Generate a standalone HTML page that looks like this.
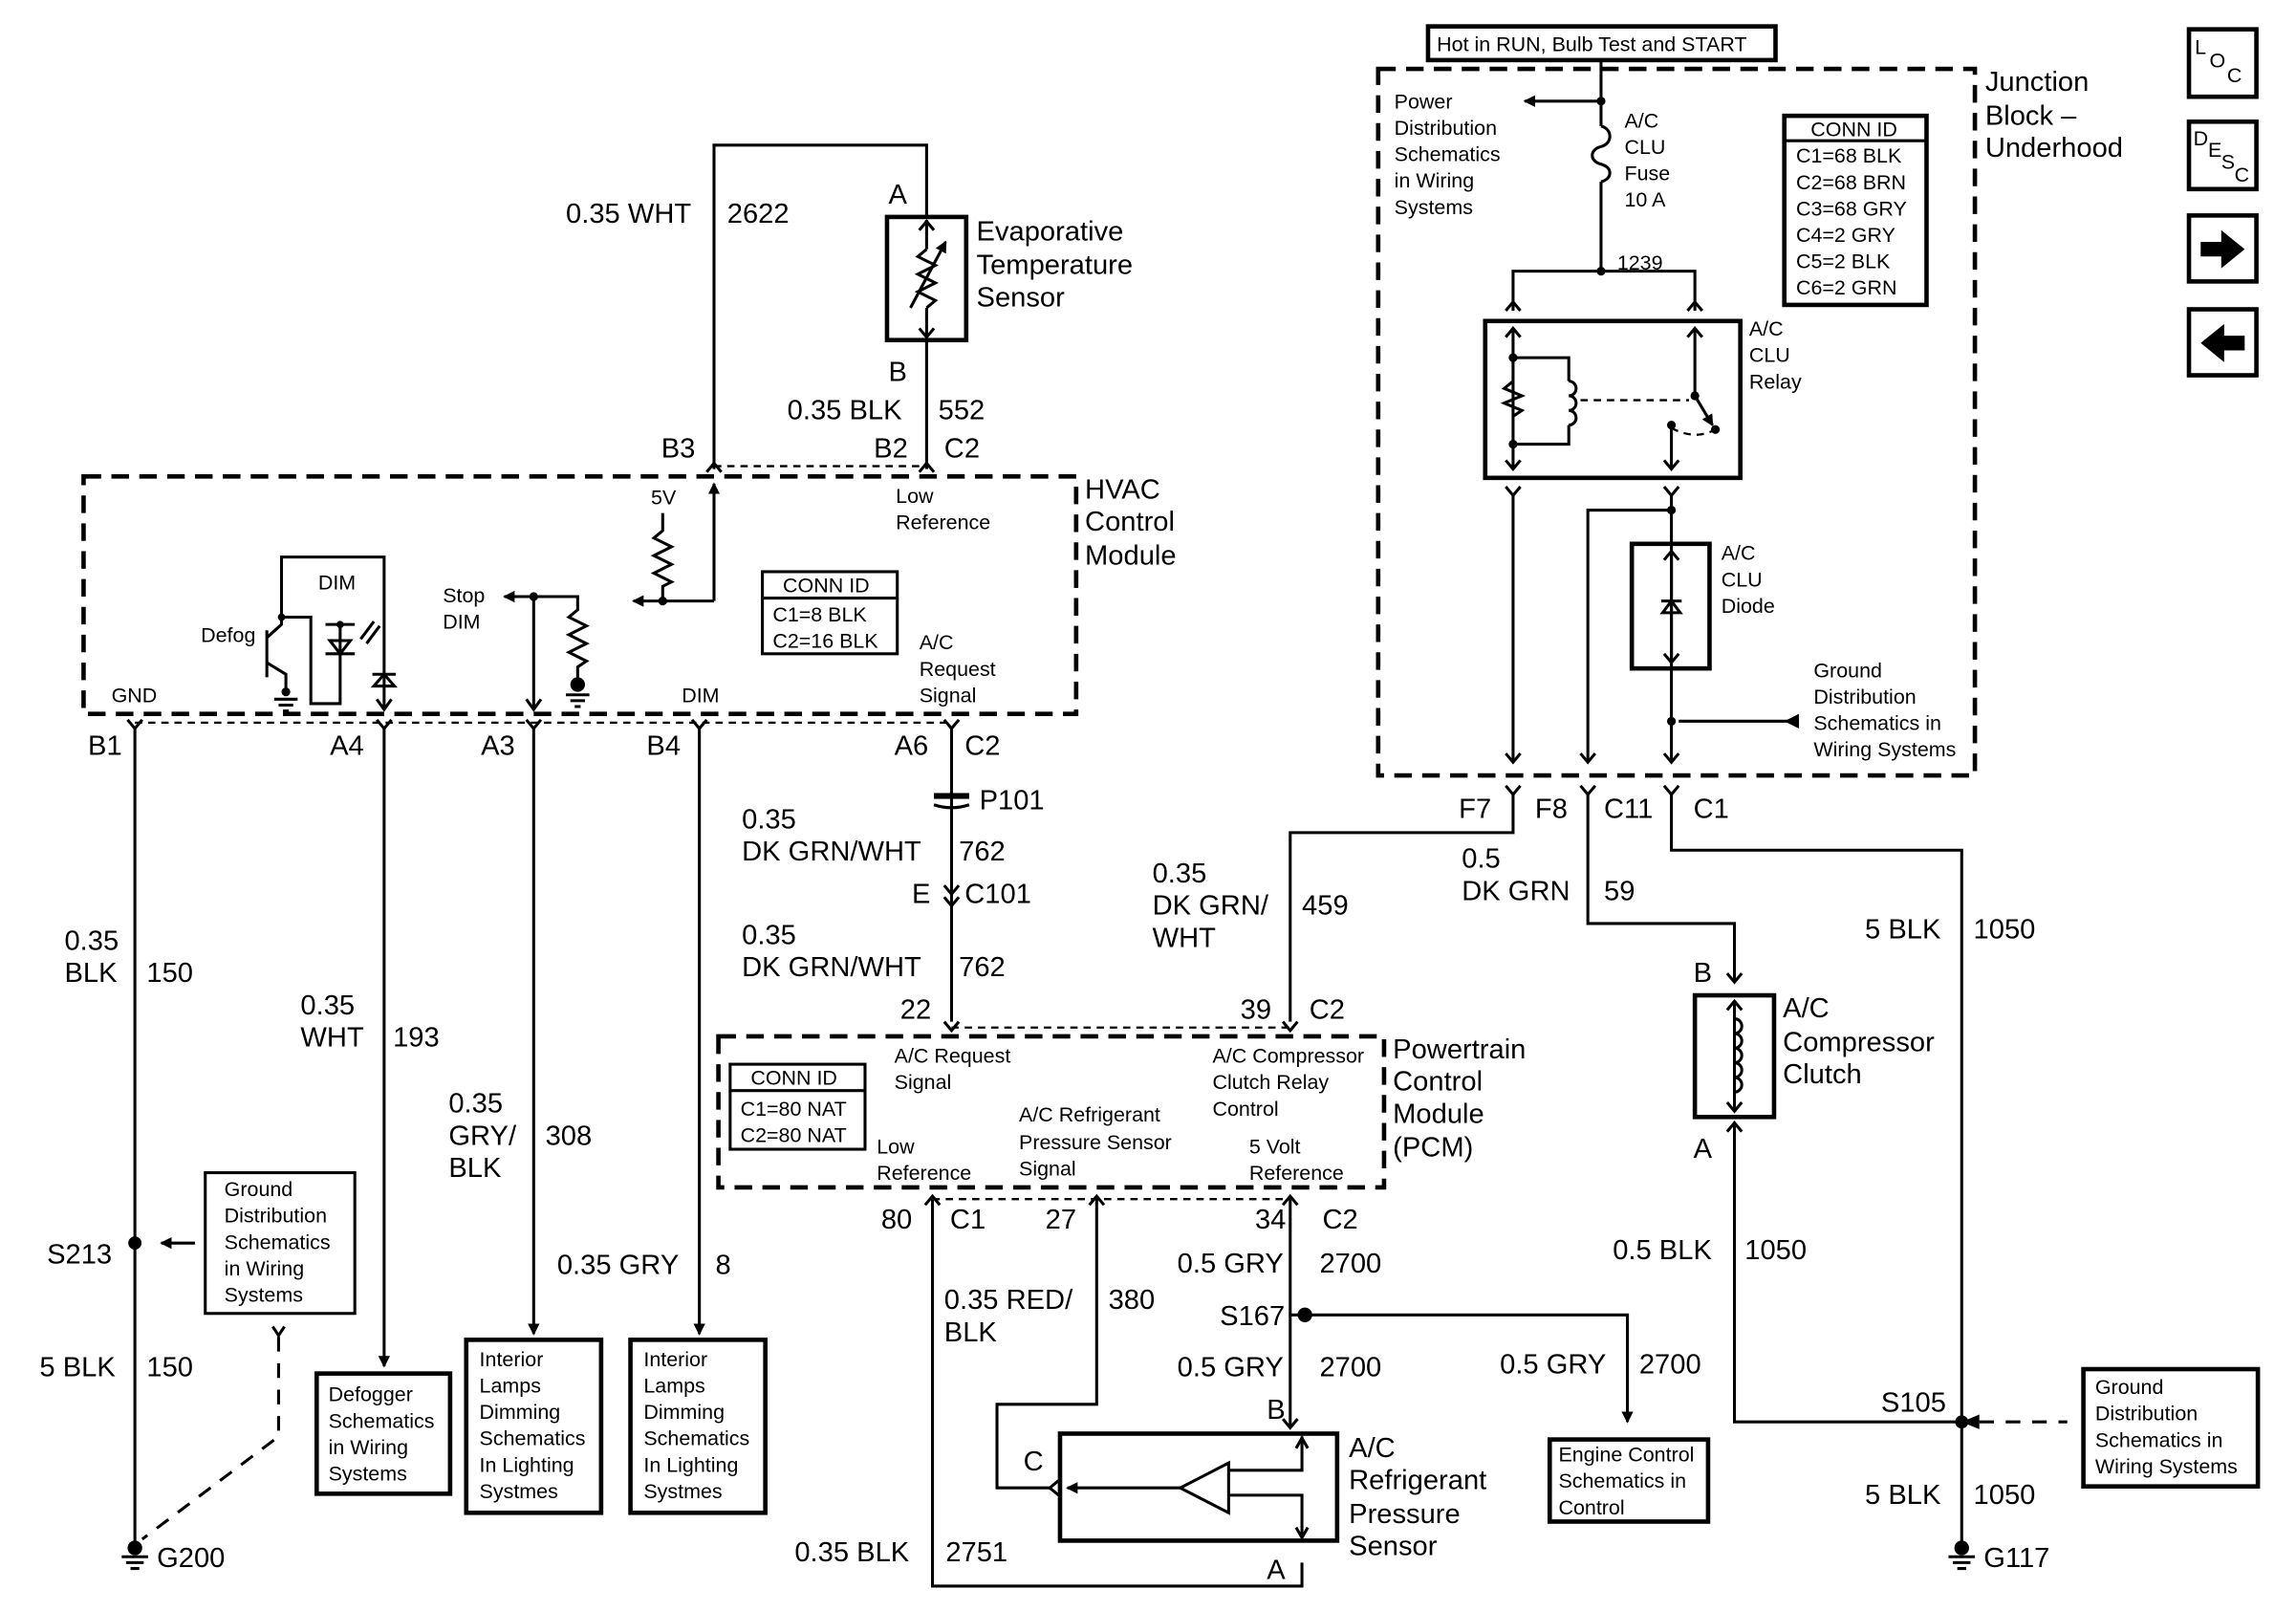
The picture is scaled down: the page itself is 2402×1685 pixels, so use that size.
<!DOCTYPE html>
<html><head><meta charset="utf-8"><style>
html,body{margin:0;padding:0;background:#fff;}
svg{display:block;}
text{font-family:"Liberation Sans",Arial,sans-serif;fill:#000;}
.b{font-size:19px;}
.s{font-size:14px;}
.l{stroke:#000;stroke-width:2;fill:none;}
.t{stroke:#000;stroke-width:3;fill:none;}
.d{stroke:#000;stroke-width:3;fill:none;stroke-dasharray:12,7;}
.dt{stroke:#000;stroke-width:1.5;fill:none;stroke-dasharray:5,4;}
.dl{stroke:#000;stroke-width:2;fill:none;stroke-dasharray:10,8;}
</style></head><body>
<svg width="2402" height="1685" viewBox="0 0 1566 1099" preserveAspectRatio="none" xmlns="http://www.w3.org/2000/svg">
<defs>
<marker id="ah" markerWidth="8" markerHeight="8" refX="7" refY="4" orient="auto" markerUnits="userSpaceOnUse"><path d="M0,0 L8,4 L0,8 z" fill="#000"/></marker>
</defs>
<path class="l" d="M487,320 V99 H632 V148"/>
<rect x="605" y="148" width="54" height="84" class="t"/>
<path class="l" d="M632,150 V170 M632,210 V230 M627,157 L632,151 L637,157 M627,224 L632,230 L637,224"/>
<path class="l" d="M632,170 L626,175 L638,181 L626,187 L638,193 L626,199 L638,205 L632,210"/>
<path class="l" d="M621,210 L645,165" marker-end="url(#ah)"/>
<path class="l" d="M632,232 V320"/>
<text class="b" x="606" y="139">A</text>
<text class="b" x="666" y="164">Evaporative</text>
<text class="b" x="666" y="187">Temperature</text>
<text class="b" x="666" y="209">Sensor</text>
<text class="b" x="386" y="152">0.35 WHT</text>
<text class="b" x="496" y="152">2622</text>
<text class="b" x="606" y="260">B</text>
<text class="b" x="537" y="286">0.35 BLK</text>
<text class="b" x="640" y="286">552</text>
<text class="b" x="451" y="312">B3</text>
<text class="b" x="596" y="312">B2</text>
<text class="b" x="644" y="312">C2</text>
<path class="dt" d="M487,318 H632"/>
<path class="l" d="M482,322 L487,316 L492,322 M627,322 L632,316 L637,322"/>
<rect x="57" y="325" width="677" height="162" class="d"/>
<text class="b" x="740" y="340">HVAC</text>
<text class="b" x="740" y="362">Control</text>
<text class="b" x="740" y="385">Module</text>
<text class="s" x="611" y="343">Low</text>
<text class="s" x="611" y="361">Reference</text>
<text class="s" x="444" y="344">5V</text>
<path class="l" d="M452,350 V362 L446,367 L458,373 L446,379 L458,385 L446,391 L458,397 L452,400 V410"/>
<path class="l" d="M487,410 H432" marker-end="url(#ah)"/>
<path class="l" d="M487,410 V330" marker-end="url(#ah)"/>
<circle cx="452" cy="410" r="3"/>
<rect x="520" y="390" width="92" height="56" class="l"/>
<path class="l" d="M520,408 H612"/>
<text class="s" x="534" y="404">CONN ID</text>
<text class="s" x="527" y="424">C1=8 BLK</text>
<text class="s" x="527" y="442">C2=16 BLK</text>
<text class="s" x="627" y="443">A/C</text>
<text class="s" x="627" y="461">Request</text>
<text class="s" x="627" y="479">Signal</text>
<text class="s" x="302" y="411">Stop</text>
<text class="s" x="302" y="429">DIM</text>
<path class="l" d="M364,407 H344" marker-end="url(#ah)"/>
<path class="l" d="M364,407 H394 V416 L388,421 L400,427 L388,433 L400,439 L388,445 L400,451 L394,455 V468"/>
<circle cx="364" cy="407" r="3"/>
<circle cx="394" cy="467" r="5"/>
<path class="l" d="M386,474 H402 M389,478 H399 M392,482 H396"/>
<path class="l" d="M364,407 V484 M359,477 L364,484 L369,477"/>
<text class="s" x="137" y="438">Defog</text>
<path class="l" d="M192,421 V380 H262 V484"/>
<path class="l" d="M192,421 H212 V480 H232 V443 M232,443 V426"/>
<path class="l" d="M222,426 H242"/>
<path class="l" d="M225,437 L232,446 L239,437 z" fill="#000"/>
<path class="l" d="M222,446 H242"/>
<circle cx="232" cy="426" r="2.5"/><circle cx="192" cy="421" r="2.5"/>
<path class="l" d="M246,436 L255,424 M250,439 L259,427" stroke-width="1.5"/>
<text class="s" x="217" y="402">DIM</text>
<path class="l" d="M192,421 V426 L182,435 M182,430 V462 M182,452 L195,460 V470"/>
<circle cx="195" cy="472" r="3"/>
<path class="l" d="M187,477 H203 M190,481 H200 M193,485 H197"/>
<path class="l" d="M254,460 H270 M255,468 L262,460 L269,468 z" fill="#000"/>
<path class="l" d="M257,477 L262,484 L267,477"/>
<text class="s" x="76" y="479">GND</text>
<text class="s" x="465" y="479">DIM</text>
<path class="dt" d="M92,493 H650"/>
<path class="l" d="M87,491 L92,497 L97,491 M257,491 L262,497 L267,491 M359,491 L364,497 L369,491 M472,491 L477,497 L482,491 M644,491 L649,497 L654,491"/>
<text class="b" x="60" y="515">B1</text>
<text class="b" x="225" y="515">A4</text>
<text class="b" x="328" y="515">A3</text>
<text class="b" x="441" y="515">B4</text>
<text class="b" x="610" y="515">A6</text>
<text class="b" x="658" y="515">C2</text>
<path class="l" d="M92,497 V1052"/>
<circle cx="92" cy="848" r="4.5"/>
<path class="l" d="M133,848 H110" marker-end="url(#ah)"/>
<rect x="140" y="800" width="102" height="96" class="l"/>
<text class="s" x="153" y="816">Ground</text>
<text class="s" x="153" y="834">Distribution</text>
<text class="s" x="153" y="852">Schematics</text>
<text class="s" x="153" y="870">in Wiring</text>
<text class="s" x="153" y="888">Systems</text>
<path class="l" d="M186,905 L190,911 L194,905" fill="#000"/>
<path class="dl" d="M190,912 V980 L97,1050"/>
<circle cx="92" cy="1056" r="5"/>
<path class="l" d="M83,1062 H101 M86,1066 H98 M89,1070 H95"/>
<text class="b" x="107" y="1069">G200</text>
<text class="b" x="32" y="862">S213</text>
<text class="b" x="44" y="648">0.35</text>
<text class="b" x="44" y="670">BLK</text>
<text class="b" x="100" y="670">150</text>
<text class="b" x="27" y="939">5 BLK</text>
<text class="b" x="100" y="939">150</text>
<path class="l" d="M262,497 V932" marker-end="url(#ah)"/>
<rect x="216" y="937" width="91" height="82" class="t"/>
<text class="s" x="224" y="956">Defogger</text>
<text class="s" x="224" y="974">Schematics</text>
<text class="s" x="224" y="992">in Wiring</text>
<text class="s" x="224" y="1010">Systems</text>
<text class="b" x="205" y="692">0.35</text>
<text class="b" x="205" y="714">WHT</text>
<text class="b" x="268" y="714">193</text>
<path class="l" d="M364,497 V910" marker-end="url(#ah)"/>
<rect x="318" y="914" width="92" height="118" class="t"/>
<text class="s" x="327" y="932">Interior</text>
<text class="s" x="327" y="950">Lamps</text>
<text class="s" x="327" y="968">Dimming</text>
<text class="s" x="327" y="986">Schematics</text>
<text class="s" x="327" y="1004">In Lighting</text>
<text class="s" x="327" y="1022">Systmes</text>
<text class="b" x="306" y="759">0.35</text>
<text class="b" x="306" y="781">GRY/</text>
<text class="b" x="306" y="803">BLK</text>
<text class="b" x="372" y="781">308</text>
<path class="l" d="M477,497 V910" marker-end="url(#ah)"/>
<rect x="430" y="914" width="92" height="118" class="t"/>
<text class="s" x="439" y="932">Interior</text>
<text class="s" x="439" y="950">Lamps</text>
<text class="s" x="439" y="968">Dimming</text>
<text class="s" x="439" y="986">Schematics</text>
<text class="s" x="439" y="1004">In Lighting</text>
<text class="s" x="439" y="1022">Systmes</text>
<text class="b" x="380" y="869">0.35 GRY</text>
<text class="b" x="488" y="869">8</text>
<path class="l" d="M649,497 V697"/>
<rect x="637" y="541" width="24" height="4" fill="#000"/>
<path class="l" d="M637,549 Q649,553 661,549"/>
<text class="b" x="668" y="552">P101</text>
<path class="l" d="M644,604 L649,610 L654,604 M644,612 L649,618 L654,612"/>
<text class="b" x="622" y="616">E</text>
<text class="b" x="658" y="616">C101</text>
<text class="b" x="506" y="565">0.35</text>
<text class="b" x="506" y="587">DK GRN/WHT</text>
<text class="b" x="654" y="587">762</text>
<text class="b" x="506" y="644">0.35</text>
<text class="b" x="506" y="666">DK GRN/WHT</text>
<text class="b" x="654" y="666">762</text>
<text class="b" x="614" y="695">22</text>
<text class="b" x="846" y="695">39</text>
<text class="b" x="893" y="695">C2</text>
<path class="l" d="M644,697 L649,703 L654,697 M875,697 L880,703 L885,697"/>
<path class="dt" d="M649,701 H880"/>
<rect x="490" y="707" width="454" height="103" class="d"/>
<text class="b" x="950" y="722">Powertrain</text>
<text class="b" x="950" y="744">Control</text>
<text class="b" x="950" y="766">Module</text>
<text class="b" x="950" y="789">(PCM)</text>
<rect x="498" y="726" width="92" height="58" class="l"/>
<path class="l" d="M498,744 H590"/>
<text class="s" x="512" y="740">CONN ID</text>
<text class="s" x="505" y="761">C1=80 NAT</text>
<text class="s" x="505" y="779">C2=80 NAT</text>
<text class="s" x="610" y="725">A/C Request</text>
<text class="s" x="610" y="743">Signal</text>
<text class="s" x="695" y="765">A/C Refrigerant</text>
<text class="s" x="695" y="784">Pressure Sensor</text>
<text class="s" x="695" y="802">Signal</text>
<text class="s" x="598" y="787">Low</text>
<text class="s" x="598" y="805">Reference</text>
<text class="s" x="827" y="725">A/C Compressor</text>
<text class="s" x="827" y="743">Clutch Relay</text>
<text class="s" x="827" y="761">Control</text>
<text class="s" x="852" y="787">5 Volt</text>
<text class="s" x="852" y="805">Reference</text>
<path class="dt" d="M636,818 H880"/>
<path class="l" d="M631,822 L636,816 L641,822 M743,822 L748,816 L753,822 M875,822 L880,816 L885,822"/>
<text class="b" x="601" y="838">80</text>
<text class="b" x="648" y="838">C1</text>
<text class="b" x="713" y="838">27</text>
<text class="b" x="856" y="838">34</text>
<text class="b" x="902" y="838">C2</text>
<path class="l" d="M636,818 V1082 H888 V1066"/>
<text class="b" x="542" y="1065">0.35 BLK</text>
<text class="b" x="645" y="1065">2751</text>
<text class="b" x="864" y="1077">A</text>
<path class="l" d="M748,818 V958 H680 V1015 H716"/>
<path class="l" d="M722,1010 L716,1015 L722,1020"/>
<text class="b" x="698" y="1003">C</text>
<text class="b" x="644" y="893">0.35 RED/</text>
<text class="b" x="644" y="915">BLK</text>
<text class="b" x="756" y="893">380</text>
<path class="l" d="M880,818 V974 M875,968 L880,974 L885,968"/>
<circle cx="890" cy="897" r="5"/>
<path class="l" d="M880,897 H1110 V970" marker-end="url(#ah)"/>
<text class="b" x="803" y="868">0.5 GRY</text>
<text class="b" x="900" y="868">2700</text>
<text class="b" x="832" y="904">S167</text>
<text class="b" x="803" y="939">0.5 GRY</text>
<text class="b" x="900" y="939">2700</text>
<text class="b" x="1023" y="937">0.5 GRY</text>
<text class="b" x="1118" y="937">2700</text>
<text class="b" x="864" y="968">B</text>
<rect x="1057" y="982" width="108" height="56" class="t"/>
<text class="s" x="1063" y="997">Engine Control</text>
<text class="s" x="1063" y="1015">Schematics in</text>
<text class="s" x="1063" y="1033">Control</text>
<rect x="723" y="978" width="189" height="73" class="t"/>
<path class="l" d="M888,980 V1003 H838 M838,1020 H888 V1049 M888,988 V1003"/>
<path class="l" d="M884,988 L888,981 L892,988 M884,1042 L888,1049 L892,1042"/>
<path class="l" d="M838,998 L805,1015 L838,1032 z"/>
<path class="l" d="M805,1015 H728" marker-end="url(#ah)"/>
<text class="b" x="920" y="994">A/C</text>
<text class="b" x="920" y="1016">Refrigerant</text>
<text class="b" x="920" y="1039">Pressure</text>
<text class="b" x="920" y="1061">Sensor</text>
<rect x="974" y="18" width="237" height="23" class="t"/>
<text class="s" x="980" y="35">Hot in RUN, Bulb Test and START</text>
<rect x="940" y="47" width="407" height="482" class="d"/>
<text class="b" x="1354" y="62">Junction</text>
<text class="b" x="1354" y="85">Block –</text>
<text class="b" x="1354" y="107">Underhood</text>
<path class="l" d="M1092,41 V86 M1092,124 V185"/>
<path class="l" d="M1092,86 C1100,88 1100,98 1092,100 C1084,102 1084,110 1092,112 C1100,114 1100,122 1092,124"/>
<circle cx="1092" cy="69" r="3"/>
<path class="l" d="M1092,69 H1040" marker-end="url(#ah)"/>
<circle cx="1092" cy="185" r="3"/>
<text class="s" x="951" y="74">Power</text>
<text class="s" x="951" y="92">Distribution</text>
<text class="s" x="951" y="110">Schematics</text>
<text class="s" x="951" y="128">in Wiring</text>
<text class="s" x="951" y="146">Systems</text>
<text class="s" x="1108" y="87">A/C</text>
<text class="s" x="1108" y="105">CLU</text>
<text class="s" x="1108" y="123">Fuse</text>
<text class="s" x="1108" y="141">10 A</text>
<text class="s" x="1103" y="184">1239</text>
<rect x="1217" y="79" width="97" height="129" class="t"/>
<path class="l" d="M1217,96 H1314"/>
<text class="s" x="1235" y="93">CONN ID</text>
<text class="s" x="1225" y="111">C1=68 BLK</text>
<text class="s" x="1225" y="129">C2=68 BRN</text>
<text class="s" x="1225" y="147">C3=68 GRY</text>
<text class="s" x="1225" y="165">C4=2 GRY</text>
<text class="s" x="1225" y="183">C5=2 BLK</text>
<text class="s" x="1225" y="201">C6=2 GRN</text>
<path class="l" d="M1032,212 V185 H1156 V212 M1027,212 L1032,206 L1037,212 M1151,212 L1156,206 L1161,212"/>
<rect x="1013" y="219" width="174" height="107" class="t"/>
<path class="l" d="M1032,224 V320 M1027,230 L1032,224 L1037,230 M1027,314 L1032,320 L1037,314"/>
<path class="l" d="M1032,244 H1070 V260 M1070,290 V303 H1032"/>
<path class="l" d="M1070,260 a5,5 0 0 1 0,10 a5,5 0 0 1 0,10 a5,5 0 0 1 0,10"/>
<path class="l" d="M1032,260 L1026,265 L1038,270 L1026,275 L1038,280 L1032,284"/>
<circle cx="1032" cy="244" r="3"/><circle cx="1032" cy="303" r="3"/>
<path class="l" d="M1156,224 V270 M1151,230 L1156,224 L1161,230"/>
<circle cx="1156" cy="270" r="3"/>
<path class="l" d="M1156,270 L1168,290" marker-end="url(#ah)"/>
<circle cx="1170" cy="293" r="3"/>
<path class="dt" d="M1078,273 H1152"/>
<path class="dt" d="M1140,292 Q1155,300 1168,294"/>
<circle cx="1140" cy="290" r="3"/>
<path class="l" d="M1140,290 V320 M1135,314 L1140,320 L1145,314"/>
<text class="s" x="1193" y="229">A/C</text>
<text class="s" x="1193" y="247">CLU</text>
<text class="s" x="1193" y="265">Relay</text>
<path class="l" d="M1027,332 L1032,338 L1037,332 M1135,332 L1140,338 L1145,332"/>
<path class="l" d="M1032,338 V520 M1140,338 V520"/>
<circle cx="1140" cy="348" r="3"/>
<path class="l" d="M1083,520 V348 H1140"/>
<rect x="1113" y="371" width="53" height="85" class="t"/>
<path class="l" d="M1140,376 V452 M1135,382 L1140,376 L1145,382 M1135,446 L1140,452 L1145,446"/>
<path class="l" d="M1133,410 H1147 M1134,418 L1140,410 L1146,418 z" fill="#000"/>
<text class="s" x="1174" y="382">A/C</text>
<text class="s" x="1174" y="400">CLU</text>
<text class="s" x="1174" y="418">Diode</text>
<circle cx="1140" cy="492" r="3"/>
<path class="l" d="M1227,492 H1145"/>
<path d="M1217,492 L1227,487 L1227,497 z" fill="#000"/>
<text class="s" x="1237" y="462">Ground</text>
<text class="s" x="1237" y="480">Distribution</text>
<text class="s" x="1237" y="498">Schematics in</text>
<text class="s" x="1237" y="516">Wiring Systems</text>
<path class="l" d="M1027,514 L1032,520 L1037,514 M1078,514 L1083,520 L1088,514 M1135,514 L1140,520 L1145,514"/>
<path class="l" d="M1027,536 L1032,542 L1037,536 M1078,536 L1083,542 L1088,536 M1135,536 L1140,542 L1145,536"/>
<text class="b" x="995" y="558">F7</text>
<text class="b" x="1047" y="558">F8</text>
<text class="b" x="1094" y="558">C11</text>
<text class="b" x="1155" y="558">C1</text>
<path class="l" d="M1032,542 V568 H880 V697"/>
<text class="b" x="786" y="602">0.35</text>
<text class="b" x="786" y="624">DK GRN/</text>
<text class="b" x="786" y="646">WHT</text>
<text class="b" x="888" y="624">459</text>
<path class="l" d="M1083,542 V630 H1183 V670 M1178,664 L1183,670 L1188,664"/>
<text class="b" x="997" y="592">0.5</text>
<text class="b" x="997" y="614">DK GRN</text>
<text class="b" x="1094" y="614">59</text>
<rect x="1156" y="679" width="54" height="83" class="t"/>
<path class="l" d="M1183,683 V758 M1178,689 L1183,683 L1188,689 M1178,752 L1183,758 L1188,752"/>
<path class="l" d="M1183,695 a5,5 0 0 1 0,10 a5,5 0 0 1 0,10 a5,5 0 0 1 0,10 a5,5 0 0 1 0,10 a5,5 0 0 1 0,10"/>
<text class="b" x="1155" y="670">B</text>
<text class="b" x="1155" y="790">A</text>
<text class="b" x="1216" y="694">A/C</text>
<text class="b" x="1216" y="717">Compressor</text>
<text class="b" x="1216" y="739">Clutch</text>
<path class="l" d="M1178,772 L1183,766 L1188,772 M1183,766 V970 H1338"/>
<text class="b" x="1100" y="859">0.5 BLK</text>
<text class="b" x="1190" y="859">1050</text>
<path class="l" d="M1140,542 V580 H1338 V1052"/>
<text class="b" x="1272" y="640">5 BLK</text>
<text class="b" x="1346" y="640">1050</text>
<circle cx="1338" cy="970" r="4.5"/>
<path class="dl" d="M1350,970 H1410"/>
<path d="M1338,970 L1350,965 L1350,975 z" fill="#000"/>
<rect x="1421" y="934" width="119" height="80" class="t"/>
<text class="s" x="1429" y="951">Ground</text>
<text class="s" x="1429" y="969">Distribution</text>
<text class="s" x="1429" y="987">Schematics in</text>
<text class="s" x="1429" y="1005">Wiring Systems</text>
<text class="b" x="1283" y="963">S105</text>
<text class="b" x="1272" y="1026">5 BLK</text>
<text class="b" x="1346" y="1026">1050</text>
<circle cx="1338" cy="1056" r="5"/>
<path class="l" d="M1329,1062 H1347 M1332,1066 H1344 M1335,1070 H1341"/>
<text class="b" x="1353" y="1069">G117</text>
<rect x="1493" y="20" width="46" height="46" class="t"/>
<text class="s" x="1497" y="37">L</text><text class="s" x="1507" y="46">O</text><text class="s" x="1519" y="56">C</text>
<rect x="1493" y="83" width="46" height="46" class="t"/>
<text class="s" x="1496" y="99">D</text><text class="s" x="1506" y="107">E</text><text class="s" x="1515" y="115">S</text><text class="s" x="1524" y="124">C</text>
<rect x="1493" y="147" width="46" height="45" class="t"/>
<path d="M1501,165 H1515 V157 L1531,170 L1515,183 V175 H1501 z" fill="#000"/>
<rect x="1493" y="211" width="46" height="45" class="t"/>
<path d="M1531,229 H1517 V221 L1501,234 L1517,247 V239 H1531 z" fill="#000"/>
</svg>
</body></html>
